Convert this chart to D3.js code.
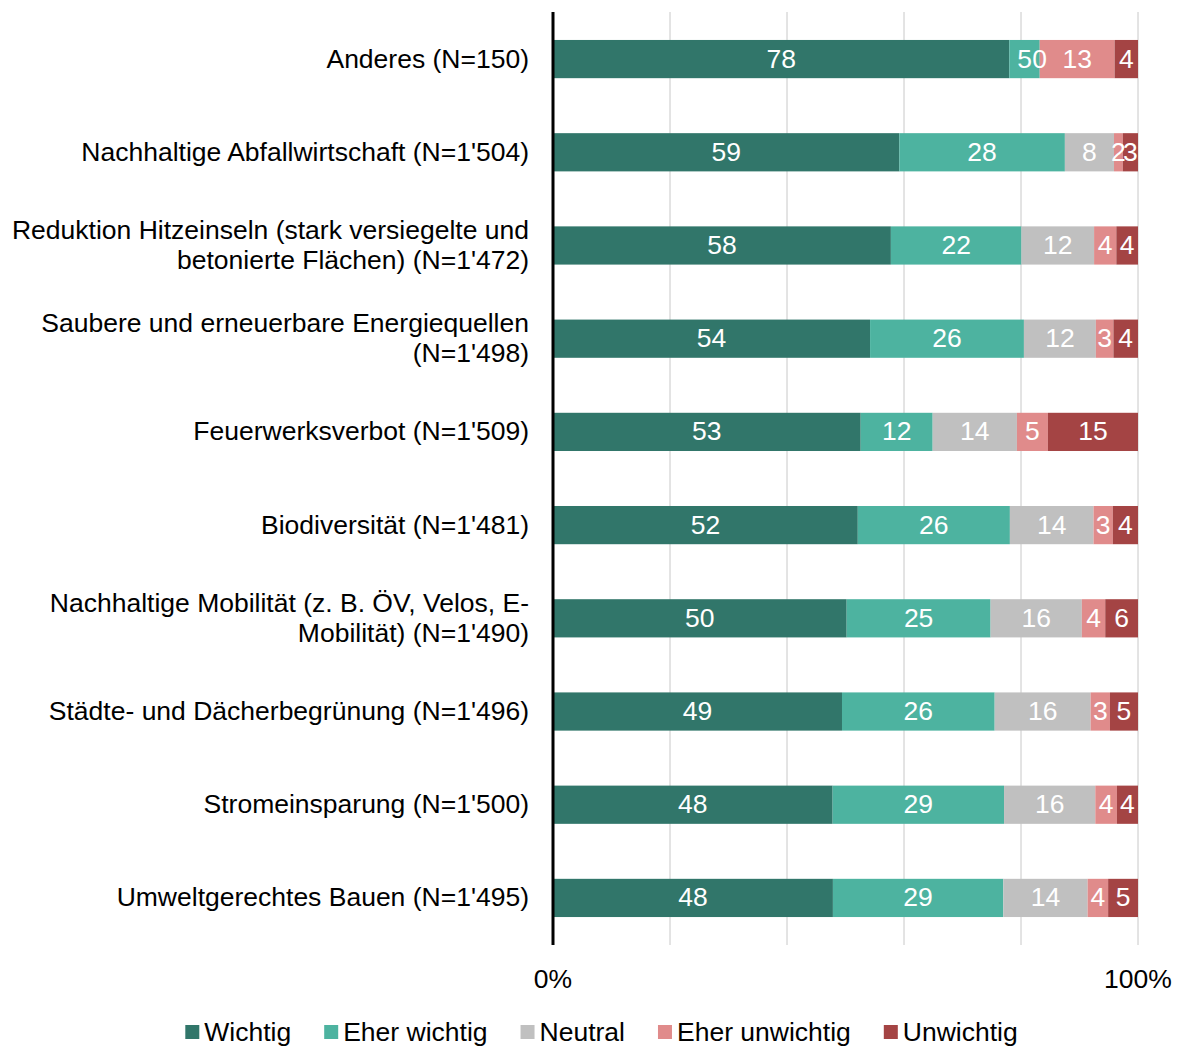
<!DOCTYPE html>
<html>
<head>
<meta charset="utf-8">
<script src="https://cdn.jsdelivr.net/npm/d3@7"></script>
<style>
  html, body { margin: 0; padding: 0; background: #fff; }
  svg { display: block; font-family: "Liberation Sans", Arial, sans-serif; }
</style>
</head>
<body>
<svg id="chart" width="1179" height="1046"></svg>
<script>
// categories, top to bottom (multi-line labels split on '|')
const categories = [
  'Anderes (N=150)',
  'Nachhaltige Abfallwirtschaft (N=1\'504)',
  'Reduktion Hitzeinseln (stark versiegelte und|betonierte Flächen) (N=1\'472)',
  'Saubere und erneuerbare Energiequellen|(N=1\'498)',
  'Feuerwerksverbot (N=1\'509)',
  'Biodiversität (N=1\'481)',
  'Nachhaltige Mobilität (z. B. ÖV, Velos, E-|Mobilität) (N=1\'490)',
  'Städte- und Dächerbegrünung (N=1\'496)',
  'Stromeinsparung (N=1\'500)',
  'Umweltgerechtes Bauen (N=1\'495)'
];
const series = ['Wichtig', 'Eher wichtig', 'Neutral', 'Eher unwichtig', 'Unwichtig'];
// percentages (labels show them rounded)
const wichtig       = [78.0, 59.2, 57.7, 54.2, 52.6, 52.1, 50.2, 49.4, 47.8, 47.8];
const eherWichtig   = [ 5.2, 28.3, 22.3, 26.3, 12.3, 26.0, 24.6, 26.1, 29.3, 29.1];
const neutral       = [ 0.0,  8.4, 12.4, 12.3, 14.4, 14.3, 15.6, 16.4, 15.6, 14.4];
const eherUnwichtig = [12.8,  1.5,  3.8,  3.0,  5.3,  3.3,  4.0,  3.3,  3.7,  3.5];
const unwichtig     = [ 4.0,  2.6,  3.7,  4.2, 15.4,  4.3,  5.6,  4.8,  3.6,  5.1];
const xTicks = [0, 1];
const colors = ['#31766a', '#4db3a0', '#c0c0c0', '#e08b8b', '#a44444'];

const cols = [wichtig, eherWichtig, neutral, eherUnwichtig, unwichtig];
const table = categories.map((c, i) => {
  const row = { cat: c };
  series.forEach((s, j) => row[s] = cols[j][i]);
  return row;
});

const FS = '26.5px';
const svg = d3.select('#chart');
const m = { top: 12, left: 553, right: 41, bottom: 101 };
const W = 1179, H = 1046;
const iw = W - m.left - m.right, ih = H - m.top - m.bottom;
const g = svg.append('g').attr('transform', `translate(${m.left},${m.top})`);

const x = d3.scaleLinear([0, 1], [0, iw]);
const y = d3.scaleBand(categories, [0, ih]).paddingInner(0.59).paddingOuter(0.3);
const color = d3.scaleOrdinal(series, colors);

const stacked = d3.stack().keys(series).offset(d3.stackOffsetExpand)(table);

// gridlines
g.append('g').selectAll('line').data(d3.range(1, 6).map(d => d / 5)).join('line')
  .attr('x1', d => x(d)).attr('x2', d => x(d)).attr('y1', 0).attr('y2', ih)
  .attr('stroke', '#c8c8c8').attr('stroke-width', 1);

// bars
const layers = g.append('g').selectAll('g').data(stacked).join('g').attr('fill', s => color(s.key));
layers.selectAll('rect').data(s => s).join('rect')
  .attr('x', d => x(d[0])).attr('width', d => x(d[1]) - x(d[0]))
  .attr('y', d => y(d.data.cat)).attr('height', y.bandwidth());

// value labels (overlap of tiny segments is as in the original)
const labels = g.append('g');
stacked.forEach(s => {
  labels.selectAll(null).data(s).join('text')
    .attr('x', d => (x(d[0]) + x(d[1])) / 2)
    .attr('y', d => y(d.data.cat) + y.bandwidth() / 2)
    .attr('dy', '0.32em').attr('text-anchor', 'middle')
    .attr('fill', '#fff').style('font-size', FS)
    .text(d => Math.round(d.data[s.key]));
});

// y axis line
g.append('line').attr('x1', 0).attr('x2', 0).attr('y1', 0).attr('y2', ih)
  .attr('stroke', '#000').attr('stroke-width', 3);

// category labels
categories.forEach(c => {
  const lines = c.split('|');
  const cy = y(c) + y.bandwidth() / 2;
  const t = g.append('text').attr('text-anchor', 'end').attr('x', -24)
    .style('font-size', FS).attr('fill', '#000');
  lines.forEach((l, k) => {
    t.append('tspan').attr('x', -24)
      .attr('y', cy + (k - (lines.length - 1) / 2) * 30)
      .attr('dy', '0.32em').text(l);
  });
});

// x tick labels
g.append('g').selectAll('text').data(xTicks).join('text')
  .attr('x', d => x(d)).attr('y', ih + 43).attr('text-anchor', 'middle')
  .style('font-size', FS).text(d3.format('.0%'));

// legend
const leg = svg.append('g').attr('transform', `translate(0,${H - 5})`);
const items = leg.selectAll('g').data(series).join('g');
items.append('rect').attr('width', 14).attr('height', 14).attr('y', -16).attr('fill', d => color(d));
items.append('text').attr('x', 19).attr('y', 0).style('font-size', FS).text(d => d);
const gap = 33;
const widths = items.nodes().map(n => n.getBBox().width);
const total = d3.sum(widths) + gap * (widths.length - 1);
let cx = (W - total) / 2 + 12;
items.attr('transform', (d, i) => {
  const t = `translate(${cx},0)`;
  cx += widths[i] + gap;
  return t;
});
</script>
</body>
</html>
